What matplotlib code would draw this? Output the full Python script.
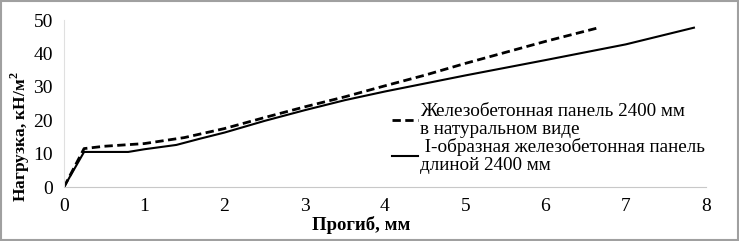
import matplotlib
matplotlib.use("Agg")
from matplotlib import pyplot as plt
from matplotlib.patches import Rectangle

# deflection (mm) vs load (kN/m2)
x_panel = [0, 0.25, 0.5, 1.0, 1.5, 2.0, 2.5, 3.0, 3.5, 4.0, 4.5, 5.0, 5.5, 6.0, 6.68]
y_panel = [0, 11.5, 12.2, 13.0, 14.8, 17.5, 20.8, 24.0, 27.0, 30.3, 33.5, 37.0, 40.3, 43.6, 47.8]

x_ibeam = [0, 0.25, 0.8, 1.0, 1.4, 1.7, 2.0, 2.5, 3.0, 3.5, 4.0, 5.0, 6.0, 7.0, 7.85]
y_ibeam = [0, 10.5, 10.5, 11.3, 12.6, 14.5, 16.3, 19.8, 23.0, 26.0, 28.6, 33.4, 38.0, 42.7, 47.7]

label_panel = "Железобетонная панель 2400 мм\nв натуральном виде"
label_ibeam = " I-образная железобетонная панель\nдлиной 2400 мм"

xticks = [0, 1, 2, 3, 4, 5, 6, 7, 8]
yticks = [0, 10, 20, 30, 40, 50]

plt.rcParams['font.family'] = ['Liberation Serif', 'DejaVu Serif']
plt.rcParams['mathtext.fontset'] = 'custom'
plt.rcParams['mathtext.rm'] = 'Liberation Serif'
plt.rcParams['mathtext.bf'] = 'Liberation Serif:bold'

fig = plt.figure(figsize=(7.39, 2.41), dpi=100)
ax = fig.add_axes([0.0866, 0.224, 0.8687, 0.693])

ax.plot(x_panel, y_panel, '--', color='black', lw=2.0, dashes=(3, 1.6), label=label_panel)
ax.plot(x_ibeam, y_ibeam, '-', color='black', lw=1.5, label=label_ibeam)

ax.set_xlim(0, 8)
ax.set_ylim(0, 50)
ax.set_xticks(xticks)
ax.set_yticks(yticks)
ax.tick_params(length=0, labelsize=14, pad=8)

for side in ['top', 'right']:
    ax.spines[side].set_visible(False)
ax.spines['left'].set_color('#e0e0e0')
ax.spines['bottom'].set_color('#c8c8c8')

ax.set_xlabel("Прогиб, мм", fontsize=13.5, fontweight='bold')
ax.xaxis.set_label_coords(0.463, -0.175)
ax.set_ylabel("Нагрузка, кН/м$^\\mathbf{2}$", fontsize=12.5, fontweight='bold')
ax.yaxis.set_label_coords(-0.05, 0.30)

leg = ax.legend(loc='upper left', bbox_to_anchor=(0.499, 0.55), frameon=False,
                fontsize=13.8, handlelength=1.35, handletextpad=0.12,
                labelspacing=0.0, borderaxespad=0)
for t in leg.get_texts():
    t.set_linespacing(1.1)

# grey frame around the whole picture
fig.patches.append(Rectangle((0.002, 0.004), 0.996, 0.992, transform=fig.transFigure,
                             fill=False, edgecolor='#a0a0a0', lw=1.5))

fig.savefig("out.png", dpi=100)
